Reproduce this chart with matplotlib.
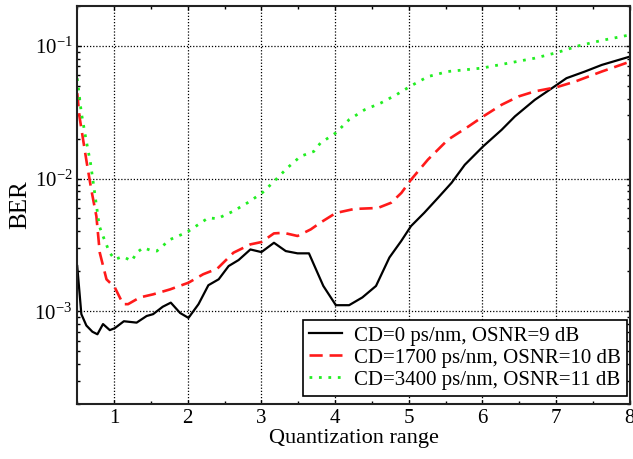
import numpy as np
import matplotlib
matplotlib.use("Agg")
import matplotlib.pyplot as plt
from matplotlib.ticker import MultipleLocator, LogLocator, NullFormatter

plt.rcParams['font.family'] = ['Liberation Serif', 'DejaVu Serif']
plt.rcParams['mathtext.fontset'] = 'custom'
plt.rcParams['mathtext.rm'] = 'Liberation Serif'

# CD=0 ps/nm, OSNR=9 dB
x_cd0 = [0.5, 0.556, 0.624, 0.706, 0.774, 0.85, 0.942, 1.01, 1.133, 1.306, 1.442, 1.53,
         1.66, 1.77, 1.896, 2.01, 2.146, 2.28, 2.42, 2.555, 2.69, 2.85, 3.0, 3.17, 3.33,
         3.49, 3.645, 3.74, 3.84, 4.01, 4.19, 4.37, 4.555, 4.737, 4.897, 5.03, 5.21, 5.397,
         5.58, 5.76, 6.01, 6.26, 6.44, 6.71, 7.01, 7.14, 7.39, 7.62, 8.0]
ber_cd0 = [2.19e-3, 9.5e-4, 7.8e-4, 7.0e-4, 6.7e-4, 8.0e-4, 7.2e-4, 7.45e-4, 8.4e-4, 8.2e-4,
           9.2e-4, 9.5e-4, 1.08e-3, 1.16e-3, 9.7e-4, 8.9e-4, 1.13e-3, 1.57e-3, 1.74e-3, 2.19e-3,
           2.43e-3, 2.92e-3, 2.79e-3, 3.28e-3, 2.84e-3, 2.73e-3, 2.73e-3, 2.07e-3, 1.55e-3,
           1.11e-3, 1.11e-3, 1.27e-3, 1.55e-3, 2.54e-3, 3.38e-3, 4.38e-3, 5.52e-3, 7.16e-3,
           9.28e-3, 1.27e-2, 1.75e-2, 2.33e-2, 2.94e-2, 3.92e-2, 5.09e-2, 5.71e-2, 6.41e-2,
           7.19e-2, 8.3e-2]

# CD=1700 ps/nm, OSNR=10 dB
x_cd1700 = [0.5, 0.53, 0.58, 0.63, 0.69, 0.76, 0.806, 0.897, 1.01, 1.123, 1.19, 1.35, 1.53,
            1.76, 2.01, 2.21, 2.40, 2.62, 2.85, 3.0, 3.17, 3.3, 3.49, 3.67, 3.8, 4.01, 4.26,
            4.58, 4.76, 4.9, 5.03, 5.26, 5.53, 5.81, 6.01, 6.26, 6.49, 6.71, 7.01, 7.26,
            7.62, 8.0]
ber_cd1700 = [4.4e-2, 2.95e-2, 1.96e-2, 1.31e-2, 8.3e-3, 5.2e-3, 2.76e-3, 1.74e-3, 1.51e-3,
              1.13e-3, 1.13e-3, 1.27e-3, 1.34e-3, 1.46e-3, 1.64e-3, 1.9e-3, 2.09e-3, 2.76e-3,
              3.19e-3, 3.32e-3, 3.86e-3, 3.9e-3, 3.69e-3, 4.14e-3, 4.65e-3, 5.5e-3, 5.9e-3,
              6.0e-3, 6.57e-3, 7.8e-3, 9.8e-3, 1.39e-2, 1.96e-2, 2.47e-2, 2.94e-2, 3.6e-2,
              4.16e-2, 4.54e-2, 4.89e-2, 5.39e-2, 6.41e-2, 7.6e-2]

# CD=3400 ps/nm, OSNR=11 dB
x_cd3400 = [0.5, 0.556, 0.62, 0.68, 0.737, 0.8, 0.85, 0.94, 1.01, 1.12, 1.24, 1.306, 1.396,
            1.487, 1.58, 1.76, 1.99, 2.08, 2.28, 2.40, 2.62, 2.81, 3.01, 3.17, 3.35, 3.53,
            3.71, 3.8, 4.01, 4.19, 4.4, 4.62, 4.83, 5.03, 5.26, 5.53, 5.99, 6.35, 6.71, 7.01,
            7.3, 7.62, 8.0]
ber_cd3400 = [5.7e-2, 3.12e-2, 1.96e-2, 1.31e-2, 7.8e-3, 4.38e-3, 3.68e-3, 2.76e-3, 2.46e-3,
              2.58e-3, 2.39e-3, 2.76e-3, 3.01e-3, 2.89e-3, 2.84e-3, 3.47e-3, 3.94e-3, 4.26e-3,
              5.06e-3, 4.98e-3, 5.68e-3, 6.56e-3, 7.8e-3, 9.5e-3, 1.2e-2, 1.47e-2, 1.6e-2,
              1.85e-2, 2.21e-2, 2.78e-2, 3.3e-2, 3.71e-2, 4.28e-2, 5.0e-2, 5.87e-2, 6.41e-2,
              6.8e-2, 7.41e-2, 8.08e-2, 8.9e-2, 0.1, 0.11, 0.121]

labels = ['CD=0 ps/nm, OSNR=9 dB', 'CD=1700 ps/nm, OSNR=10 dB', 'CD=3400 ps/nm, OSNR=11 dB']

fig = plt.figure(figsize=(6.33, 4.59), dpi=100)
ax = fig.add_axes([0.122, 0.12, 0.873, 0.867])

ax.plot(x_cd0, ber_cd0, color='black', lw=1.6, label=labels[0])
ax.plot(x_cd1700, ber_cd1700, color='#ff1a1a', lw=1.9, linestyle=(0, (5, 2.6)), label=labels[1])
ax.plot(x_cd3400, ber_cd3400, color='#22ee22', lw=2.0, linestyle=(0, (1, 2.4)), label=labels[2])

ax.set_yscale('log')
ax.set_xlim(0.5, 8)
ax.set_ylim(2e-4, 2e-1)
ax.xaxis.set_major_locator(MultipleLocator(1))
ax.xaxis.set_minor_locator(MultipleLocator(0.5))
ax.yaxis.set_major_locator(LogLocator(base=10, numticks=10))
ax.yaxis.set_minor_locator(LogLocator(base=10, subs=np.arange(2, 10), numticks=10))
ax.yaxis.set_minor_formatter(NullFormatter())

ax.tick_params(which='both', direction='in', top=True, right=True, labelsize=15)
ax.tick_params(which='major', length=3, width=1)
ax.tick_params(which='minor', length=2, width=1)
ax.grid(True, which='major', color='black', linestyle=(0, (1, 1.5)), lw=0.9)

for s in ax.spines.values():
    s.set_linewidth(1.5)
    s.set_color('#222222')

ax.set_xlabel('Quantization range', fontsize=16, labelpad=1)
ax.set_ylabel('BER', fontsize=18, labelpad=2)

leg = ax.legend(loc='lower right', bbox_to_anchor=(0.995, 0.02), fontsize=15,
                frameon=True, fancybox=False, edgecolor='black', framealpha=1,
                borderpad=0.3, labelspacing=0.12, handlelength=1.6, handletextpad=0.55,
                borderaxespad=0)
leg.get_frame().set_linewidth(1.2)

fig.savefig('out.png', dpi=100)
